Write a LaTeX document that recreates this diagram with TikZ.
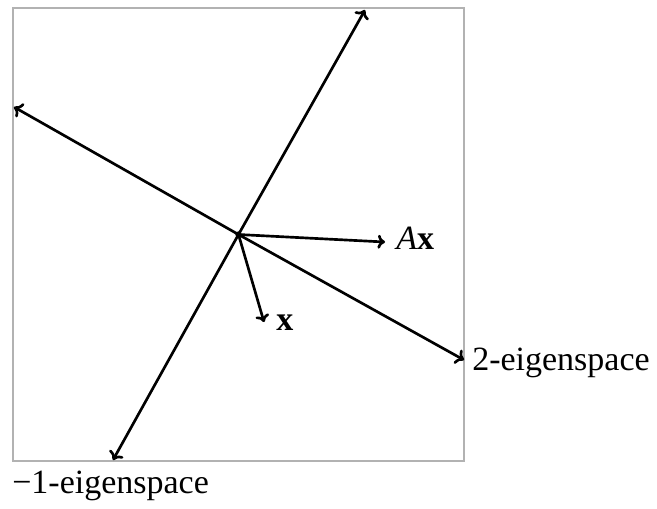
\documentclass[tikz,border=0pt]{standalone}
\usepackage{fontspec}
\setmainfont{Liberation Serif}
\usetikzlibrary{arrows.meta}
\begin{document}
\begin{tikzpicture}[x=0.75pt,y=-0.75pt,
  axis/.style={line width=2pt,-{To[length=6pt,width=12pt]}},
  vec/.style={line width=2pt,-{To[length=5.5pt,width=10.5pt]}},
  lab/.style={font=\fontsize{25.5}{30}\selectfont,inner sep=0pt}]
\useasboundingbox (0,0) rectangle (657,508);
\draw[gray!60,line width=0.8pt] (13,8) rectangle (464,461);
\coordinate (O) at (238.5,234.5);
\coordinate (T) at (365,10);
\coordinate (B) at (113,460);
\coordinate (L) at (14,107);
\coordinate (R) at (464,360);
\coordinate (X) at (264,322);
\coordinate (AX) at (385,242);
\draw[axis] (O) -- (T);
\draw[axis] (O) -- (B);
\draw[axis] (O) -- (L);
\draw[axis] (O) -- (R);
\draw[vec] (O) -- (X);
\draw[vec] (O) -- (AX);
\fill (O) circle (3.2);
\node[lab,anchor=base west] (lax) at (396,249) {\textit{A}\textbf{x}};
\node[lab,anchor=base west] (lx) at (276,330) {\textbf{x}};
\node[lab,anchor=base west] (l2) at (472,370) {2-eigenspace};
\node[lab,anchor=base west] (l1) at (12,493) {−1-eigenspace};
\end{tikzpicture}
\end{document}
